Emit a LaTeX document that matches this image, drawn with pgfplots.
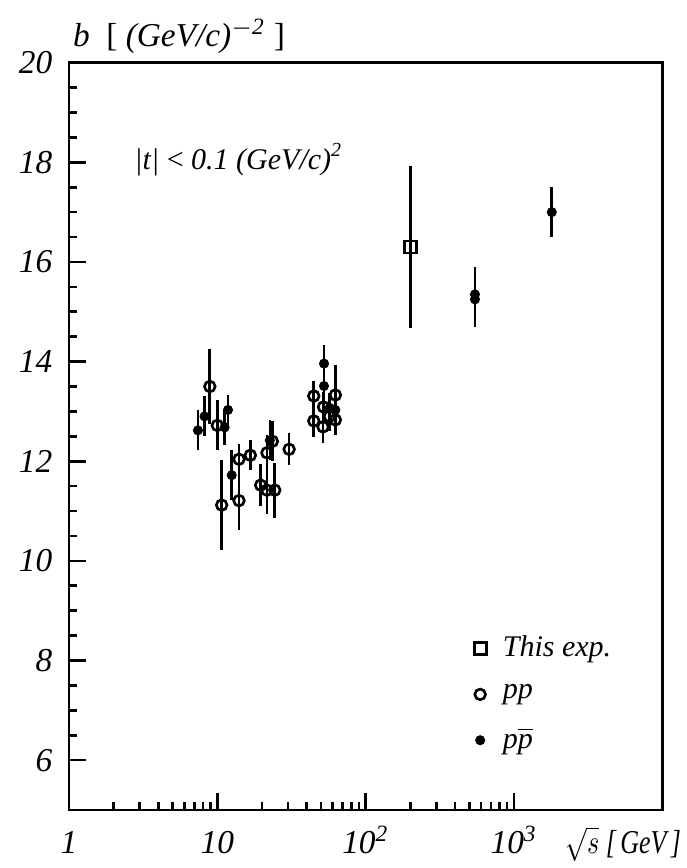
\documentclass[border=0pt]{standalone}
\usepackage{fontspec}
\setmainfont{Liberation Serif}
\usepackage{pgfplots}
\pgfplotsset{compat=1.18}
\usepackage{pgfplotstable}

% sqrt(s) [GeV], b [(GeV/c)^-2], error
\pgfplotstableread{
x y ey
200 16.3 1.62
}\thisexp

\pgfplotstableread{
x y ey
8.9 13.5 0.75
10.0 12.72 0.5
10.7 11.12 0.9
14.0 12.04 0.3
14.0 11.21 0.6
16.7 12.12 0.3
19.6 11.52 0.42
21.6 11.42 0.48
21.6 12.17 0.35
23.5 12.40 0.4
24.4 11.42 0.55
30.5 12.24 0.32
44.7 13.31 0.3
44.7 12.81 0.32
51.6 12.69 0.33
52.0 13.09 0.3
57.0 12.90 0.3
62.5 13.33 0.6
62.5 12.83 0.3
}\pp

\pgfplotstableread{
x y ey
7.4 12.62 0.4
8.2 12.90 0.4
11.2 12.68 0.35
11.8 13.03 0.3
12.5 11.72 0.5
22.6 12.42 0.4
52.4 13.96 0.37
52.4 13.51 0.35
57.3 13.07 0.3
62.5 13.03 0.3
546 15.35 0.55
546 15.25 0.55
1800 17.0 0.5
}\ppbar

\begin{document}
\begin{tikzpicture}
\begin{semilogxaxis}[
  name=ax,
  scale only axis,
  width=177.9pt,
  height=224.1pt,
  xmin=1, xmax=10000,
  ymin=5, ymax=20,
  clip mode=individual,
  axis line style={line width=0.8pt},
  xtick={1,10,100,1000},
  xticklabels={1,10,10\textsuperscript{2},10\textsuperscript{3}},
  ytick={6,8,10,12,14,16,18,20},
  minor y tick num=3,
  xtick pos=bottom,
  ytick pos=left,
  tick align=inside,
  major tick length=5pt,
  minor tick length=2.4pt,
  every tick/.style={line width=0.8pt,black},
  /pgf/number format/assume math mode=true,
  tick label style={font=\itshape\fontsize{10}{12}\selectfont},
  xticklabel style={anchor=base,yshift=-13pt},
  yticklabel style={xshift=-1.5pt},
  legend style={at={(rel axis cs:0.665,0.252)},anchor=north west,draw=none,fill=none,
    font=\itshape\fontsize{9}{11}\selectfont,row sep=3pt,
    nodes={inner xsep=5pt}},
  legend cell align=left,
  error bars/y dir=both,
  error bars/y explicit,
  error bars/error mark=none,
  error bars/error bar style={line width=0.8pt,black},
]
\addplot[only marks,mark=square,mark size=1.8pt,mark options={line width=0.8pt,fill=white}]
  table[x=x,y=y,y error=ey]{\thisexp};
\addlegendentry{This exp.}
\addplot[only marks,mark=o,mark size=1.6pt,mark options={line width=0.8pt,fill=white}]
  table[x=x,y=y,y error=ey]{\pp};
\addlegendentry{pp}
\addplot[only marks,mark=*,mark size=1.3pt,mark options={black}]
  table[x=x,y=y,y error=ey]{\ppbar};
\addlegendentry{p$\overline{\mathit{p}}$}
\node[anchor=west,font=\itshape\fontsize{9}{11}\selectfont] at (axis cs:2.3,18.05)
  {|t| {\upshape<} 0.1 (GeV/c)\textsuperscript{2}};
\node[anchor=south west,font=\itshape\fontsize{10}{12}\selectfont,inner sep=1pt] at ([yshift=1.5pt]rel axis cs:0,1)
  {b\ \ {\upshape[} (GeV/c)\textsuperscript{$-$2} {\upshape]}};
\node[anchor=base east,font=\itshape\fontsize{10}{12}\selectfont,inner sep=0pt,
  transform shape,xscale=0.78] at ([xshift=5.8pt,yshift=-13pt]rel axis cs:1,0)
  {$\sqrt{s}$\ [\,GeV\,]};
\coordinate (sw) at (rel axis cs:0,0);
\coordinate (ne) at (rel axis cs:1,1);
\end{semilogxaxis}
\pgfresetboundingbox
\path[use as bounding box] ([xshift=-20.7pt,yshift=-17.4pt]sw) rectangle ([xshift=7.2pt,yshift=18.8pt]ne);
\end{tikzpicture}
\end{document}
